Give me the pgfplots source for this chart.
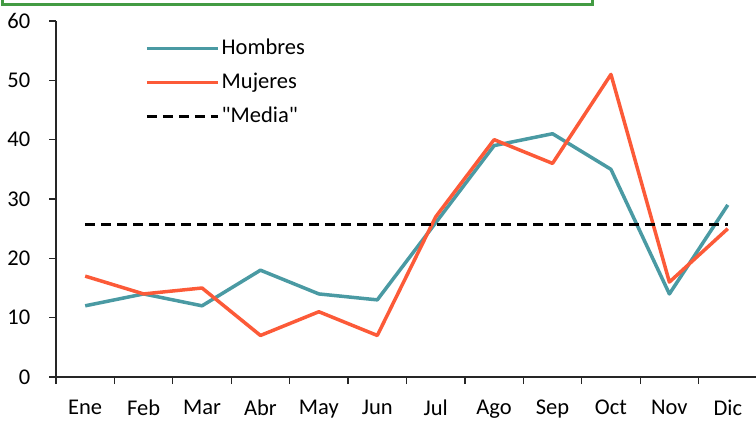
\documentclass[border=0pt]{standalone}
\usepackage{fontspec}
\setmainfont{Carlito}[Ligatures=TeXOff]
\usepackage{pgfplots}
\pgfplotsset{compat=1.18}
\definecolor{hom}{RGB}{74,154,163}
\definecolor{muj}{RGB}{252,90,56}
\definecolor{gbox}{RGB}{67,155,67}
\begin{document}
\fontsize{22.5bp}{27bp}\selectfont
\begin{tikzpicture}
\useasboundingbox (-56bp,-44bp) rectangle (700bp,377bp);
\draw[gbox, line width=3bp] (-53bp,372bp) rectangle (536bp,420bp);
\begin{axis}[
  at={(0,0)}, anchor=south west,
  scale only axis, width=701bp, height=356bp,
  xmin=-0.5, xmax=11.5, ymin=0, ymax=60,
  axis lines*=left,
  axis line style={line width=1.2bp, black!85},
  xtick={-0.5,0.5,1.5,2.5,3.5,4.5,5.5,6.5,7.5,8.5,9.5,10.5,11.5},
  xticklabel=\empty,
  extra x ticks={0,1,2,3,4,5,6,7,8,9,10,11},
  extra x tick labels={Ene,Feb,Mar,Abr,May,Jun,Jul,Ago,Sep,Oct,Nov,Dic},
  extra x tick style={tick style={draw=none}, xticklabel style={inner sep=2bp, yshift=-13.5bp}},
  ytick={0,10,...,60},
  tick align=outside,
  major tick length=7bp,
  tick style={line width=1.2bp, black!85},
  ticklabel style={font=\fontsize{22.5bp}{27bp}\selectfont},
  yticklabel style={xshift=-11bp},
  /pgf/number format/assume math mode=true,
  clip=false,
  legend style={draw=none, fill=none, at={(0.127,0.955)}, anchor=north west,
    font=\fontsize{22.5bp}{27bp}\selectfont, row sep=11bp, inner sep=0pt,
    /tikz/every even column/.append style={column sep=9bp}},
  legend cell align=left,
  legend image code/.code={\draw[#1] (0bp,0bp) -- (71bp,0bp);},
]
\addplot[hom, line width=3.5bp, line join=round] coordinates {
(0,12) (1,14) (2,12) (3,18) (4,14) (5,13) (6,26) (7,39) (8,41) (9,35) (10,14) (11,29)};
\addlegendentry{Hombres}
\addplot[muj, line width=3.5bp, line join=round] coordinates {
(0,17) (1,14) (2,15) (3,7) (4,11) (5,7) (6,27) (7,40) (8,36) (9,51) (10,16) (11,25)};
\addlegendentry{Mujeres}
\addplot[black, line width=3.5bp, dash pattern=on 10bp off 6bp] coordinates {
(0,25.7) (11,25.7)};
\addlegendentry{"Media"}
\end{axis}
\end{tikzpicture}
\end{document}
